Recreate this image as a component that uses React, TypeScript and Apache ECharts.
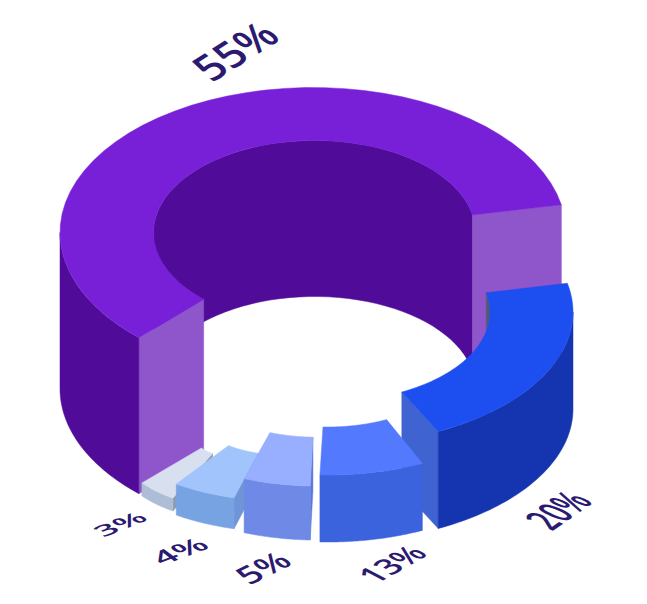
import React, { useEffect, useRef } from "react";
import * as echarts from "echarts";

const shareLabels = ["55%", "20%", "13%", "3%", "4%", "5%"];
const shareValues = [55, 20, 13, 3, 4, 5];

// How each share is drawn in the isometric view (drawing order follows the arrays above).
const layouts = [
  { c: [313, 232.5], ci: [314.5, 232.5], ro: [253, 145], ri: [161, 92], a: [11, 226.5], wall: [180, 226.5], h: 156, faces: [11, 226.5], inner: [11, 180],
    top: "#7820d8", side: "#500b98", face: "#8f56cc", innerFill: "#500b98" },
  { c: [333, 312], ro: [240, 133], ri: [157, 89], a: [12.5, -64], wall: [0, -64], h: 97, faces: [-64], inner: [12.5, -12],
    top: "#1c4ef0", side: "#1434b0", face: "#3f63d0", innerFill: "#505a78" },
  { c: [328, 341], ro: [232, 134], ri: [144, 86], a: [-66, -92], wall: [-66, -92], h: 67, faces: [],
    top: "#5379ff", side: "#3a63dd", face: "#3a63dd" },
  { c: [234.9, 428.4], ro: [127.8, 79.6], ri: [46, 28.6], a: [-119, -136.7], wall: [-119, -136.7], h: 13, faces: [-119],
    top: "#d8e0f0", side: "#adbdd5", face: "#8d9cb0" },
  { c: [282, 399], ro: [191.6, 102], ri: [96.8, 55.9], a: [-104.5, -123.5], wall: [-104.5, -123.5], h: 31, faces: [-104.5],
    top: "#a0c4fb", side: "#78a3e3", face: "#6f95d8" },
  { c: [317.9, 357.6], ro: [220, 128.5], ri: [143, 79.6], a: [-92, -109.6], wall: [-92, -109.6], h: 54, faces: [-92],
    top: "#98aeff", side: "#6e8ae6", face: "#5a78d8" },
];

// Each label lies on the floor plane: anchor is the lower-left corner of its box,
// u is the on-screen run of one em along the baseline, v the run of one em up the glyph.
const labelStyles = [
  { x: 211, y: 82, u: [35, -22], v: [-33, -27] },
  { x: 551, y: 531, u: [21, -14.6], v: [-41, -18] },
  { x: 375, y: 584, u: [26.5, -15], v: [-29, -15] },
  { x: 103, y: 537, u: [32, -12.5], v: [-18, -12] },
  { x: 162, y: 565, u: [34, -12.5], v: [-20, -15] },
  { x: 249, y: 585, u: [31, -15], v: [-24, -19] },
];
const LABEL_FONT = 32;

const rad = (d: number) => (d * Math.PI) / 180;
const pt = (c: number[], r: number[], deg: number, dy = 0): number[] => [
  c[0] + r[0] * Math.cos(rad(deg)),
  c[1] - r[1] * Math.sin(rad(deg)) + dy,
];
const arc = (c: number[], r: number[], a0: number, a1: number, dy = 0): number[][] => {
  const n = 48;
  const out: number[][] = [];
  for (let i = 0; i <= n; i++) out.push(pt(c, r, a0 + ((a1 - a0) * i) / n, dy));
  return out;
};
const poly = (points: number[][], fill: string) => ({
  type: "polygon",
  shape: { points },
  style: { fill, stroke: fill, lineWidth: 0.5 },
});

function shearedText(text: string, T: (typeof labelStyles)[number]) {
  const m00 = T.u[0] / LABEL_FONT;
  const m10 = T.u[1] / LABEL_FONT;
  const m01 = -T.v[0] / LABEL_FONT;
  const m11 = -T.v[1] / LABEL_FONT;
  const E = (m00 + m11) / 2;
  const F = (m00 - m11) / 2;
  const G = (m10 + m01) / 2;
  const H = (m10 - m01) / 2;
  const Q = Math.hypot(E, H);
  const R = Math.hypot(F, G);
  const a1 = Math.atan2(G, F);
  const a2 = Math.atan2(H, E);
  return {
    type: "group",
    x: T.x,
    y: T.y,
    rotation: -(a2 + a1) / 2,
    scaleX: Q + R,
    scaleY: Q - R,
    children: [
      {
        type: "group",
        rotation: -(a2 - a1) / 2,
        children: [
          {
            type: "text",
            x: 0,
            y: -0.36 * LABEL_FONT,
            style: {
              text,
              fontSize: LABEL_FONT,
              fontWeight: 600,
              fontFamily: "Open Sans",
              fill: "#2b1a70",
              align: "left",
              verticalAlign: "middle",
            },
          },
        ],
      },
    ],
  };
}

function renderSlice(params: any, api: any) {
  const i = params.dataIndex;
  const value = api.value(0);
  const L: any = layouts[i];
  const ci = L.ci || L.c;
  const children: any[] = [];
  if (L.inner) {
    children.push(
      poly(
        [...arc(ci, L.ri, L.inner[0], L.inner[1]), ...arc(ci, L.ri, L.inner[1], L.inner[0], L.h)],
        L.innerFill
      )
    );
  }
  L.faces.forEach((f: number) => {
    const po = pt(L.c, L.ro, f);
    const pi = pt(ci, L.ri, f);
    children.push(poly([pi, po, [po[0], po[1] + L.h], [pi[0], pi[1] + L.h]], L.face));
  });
  children.push(
    poly([...arc(L.c, L.ro, L.wall[0], L.wall[1]), ...arc(L.c, L.ro, L.wall[1], L.wall[0], L.h)], L.side)
  );
  children.push(poly([...arc(L.c, L.ro, L.a[0], L.a[1]), ...arc(ci, L.ri, L.a[1], L.a[0])], L.top));
  children.push(shearedText(value + "%", labelStyles[i]));
  return { type: "group", children };
}

export default function App() {
  const ref = useRef<HTMLDivElement>(null);
  useEffect(() => {
    document.body.style.margin = "0";
    const chart = echarts.init(ref.current!, undefined, { renderer: "svg" });
    chart.setOption({
      animation: false,
      backgroundColor: "#ffffff",
      series: [
        {
          type: "custom",
          coordinateSystem: "none",
          name: "share",
          data: shareValues.map((v, i) => ({ name: shareLabels[i], value: [v] })),
          renderItem: renderSlice,
          silent: true,
        },
      ],
    });
    return () => chart.dispose();
  }, []);
  return <div ref={ref} style={{ width: 647, height: 604 }} />;
}
